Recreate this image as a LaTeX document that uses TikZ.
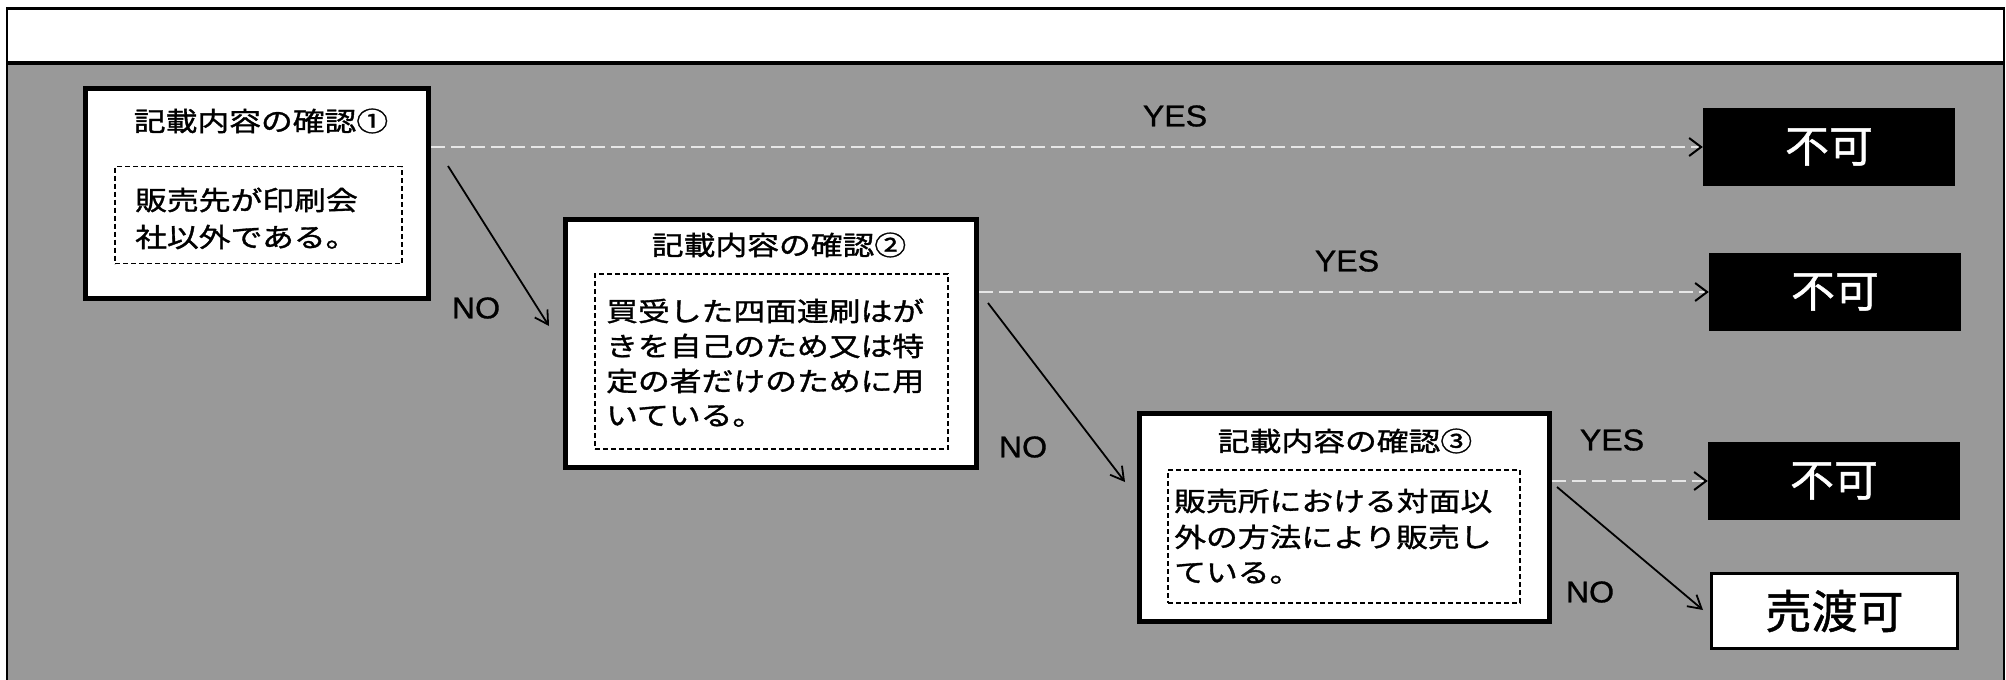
\documentclass[tikz,border=0pt]{standalone}
\usepackage{fontspec}
\usetikzlibrary{arrows.meta}
\newfontfamily\jpfont[FakeStretch=1.2,FakeBold=1.3]{Noto Sans CJK JP}
\newfontfamily\jpbig[FakeBold=1.0]{Noto Sans CJK JP}
\newfontfamily\latn[FakeStretch=1.07,FakeBold=1.0]{Liberation Sans}
\definecolor{bggray}{HTML}{999999}
\definecolor{dashcol}{HTML}{E6E6E6}
\begin{document}
\begin{tikzpicture}[x=1pt,y=-1pt,
  mainbox/.style={draw=black, line width=5pt, fill=white, inner sep=0pt},
  innerbox/.style={draw=black, line width=1.3pt, dash pattern=on 5pt off 3pt, inner sep=0pt},
  titletext/.style={font=\jpfont\fontsize{26.5}{30}\selectfont, inner sep=0pt, anchor=center},
  bodytext/.style={font=\jpfont\fontsize{26.5}{30}\selectfont, inner sep=0pt, anchor=west},
  negbox/.style={fill=black, inner sep=0pt, minimum width=252pt, minimum height=78pt, text=white, font=\jpbig\fontsize{44}{48}\selectfont},
  okbox/.style={draw=black, line width=3pt, fill=white, inner sep=0pt, minimum width=246pt, minimum height=75pt, font=\jpbig\fontsize{46}{50}\selectfont},
  lbl/.style={font=\latn\fontsize{30}{32}\selectfont, inner sep=0pt},
  yesline/.style={draw=dashcol, line width=2.2pt, dash pattern=on 14pt off 6pt, -{Straight Barb[length=12pt,width=18pt,line width=2pt,color=black]}},
  noline/.style={draw=black, line width=1.8pt, -{Straight Barb[length=13pt,width=15pt]}}
]
\useasboundingbox (0,0) rectangle (2006,680);
% background
\fill[bggray] (7,62) rectangle (2004,680);
\fill[white] (7,8) rectangle (2004,62);
\draw[line width=3pt] (6,8) -- (2005,8);
\draw[line width=4pt] (6,63) -- (2005,63);
\draw[line width=2pt] (7,7) -- (7,680);
\draw[line width=1.5pt] (2004,7) -- (2004,680);

% box 1
\node[mainbox, minimum width=343pt, minimum height=210pt] (b1) at (257,193.5) {};
\node[innerbox, minimum width=287pt, minimum height=97pt] (d1) at (258.5,215) {};
\node[titletext] (t1) at (261,121) {記載内容の確認①};
\node[bodytext] (l11) at (135,200) {販売先が印刷会};
\node[bodytext] (l12) at (135,237) {社以外である。};

% box 2
\node[mainbox, minimum width=411pt, minimum height=248pt] (b2) at (771,343.5) {};
\node[innerbox, minimum width=353pt, minimum height=175pt] (d2) at (771.5,361.5) {};
\node[titletext] (t2) at (779,245) {記載内容の確認②};
\node[bodytext] (l21) at (606,311) {買受した四面連刷はが};
\node[bodytext] (l22) at (606,346) {きを自己のため又は特};
\node[bodytext] (l23) at (606,381) {定の者だけのために用};
\node[bodytext] (l24) at (606,416) {いている。};

% box 3
\node[mainbox, minimum width=410pt, minimum height=208pt] (b3) at (1344.5,517.5) {};
\node[innerbox, minimum width=352pt, minimum height=133pt] (d3) at (1344,536.5) {};
\node[titletext] (t3) at (1345,441) {記載内容の確認③};
\node[bodytext] (l31) at (1174,501) {販売所における対面以};
\node[bodytext] (l32) at (1174,537) {外の方法により販売し};
\node[bodytext] (l33) at (1174,573) {ている。};

% results
\node[negbox] (r1) at (1829,147) {不可};
\node[negbox] (r2) at (1835,292) {不可};
\node[negbox] (r3) at (1834,481) {不可};
\node[okbox] (r4) at (1834.5,611) {売渡可};

% YES connectors
\draw[yesline] (b1.east |- r1.west) -- (r1.west);
\draw[yesline] (b2.east |- r2.west) -- (r2.west);
\draw[yesline] (b3.east |- r3.west) -- (r3.west);
\node[lbl] (y1) at (1175,116) {YES};
\node[lbl] (y2) at (1347,261) {YES};
\node[lbl] (y3) at (1612,440) {YES};

% NO connectors
\coordinate (n1s) at (448,166);
\coordinate (n1e) at (549,326);
\coordinate (n2s) at (988,303);
\coordinate (n2e) at (1125,482);
\coordinate (n3s) at (1557,487);
\coordinate (n3e) at (1703,610);
\draw[noline] (n1s) -- (n1e);
\draw[noline] (n2s) -- (n2e);
\draw[noline] (n3s) -- (n3e);
\node[lbl] (no1) at (476,308) {NO};
\node[lbl] (no2) at (1023,447) {NO};
\node[lbl] (no3) at (1590,592) {NO};
\end{tikzpicture}
\end{document}
